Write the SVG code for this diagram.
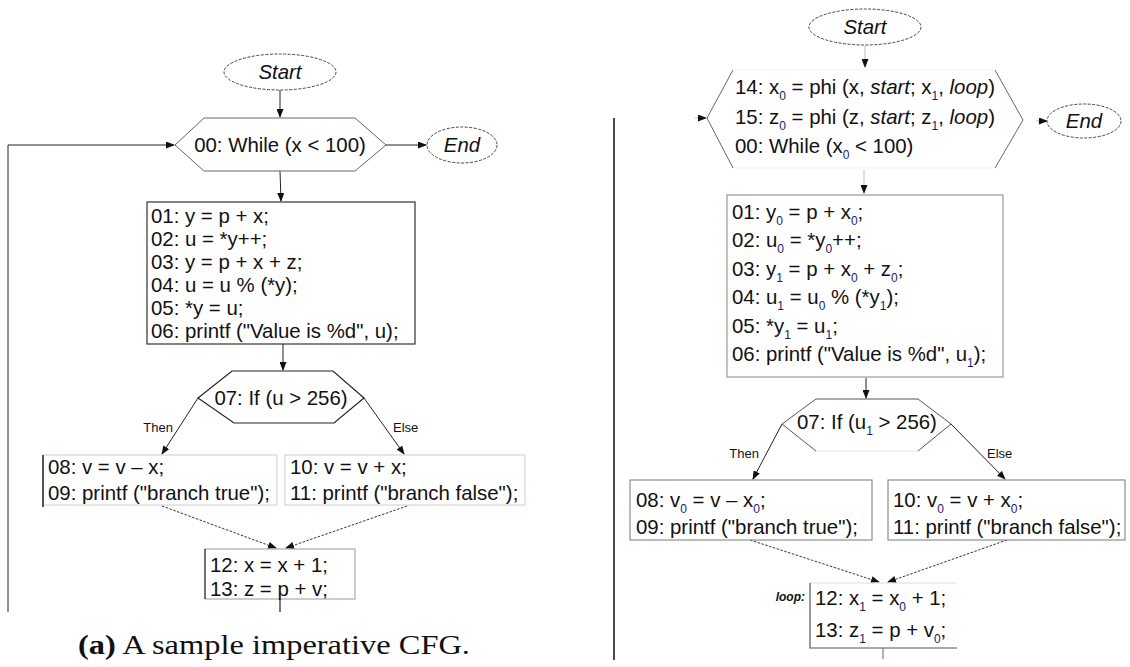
<svg xmlns="http://www.w3.org/2000/svg" width="1130" height="667" viewBox="0 0 1130 667">
<style>
text{font-family:"Liberation Sans",Arial,sans-serif;fill:#111;}
.t{font-size:20.4px;}
.it{font-style:italic;}
.sub{font-size:12px;fill:#1a1a66;}
.lbl{font-size:13px;}
.term{fill:#fff;stroke:#444;stroke-width:1;stroke-dasharray:3 1.5;}
.dark{fill:none;stroke:#222;stroke-width:1.2;}
.gray{fill:none;stroke:#666;stroke-width:1;}
.light{fill:none;stroke:#ccc;stroke-width:1;}
.edge{fill:none;stroke:#222;stroke-width:1;marker-end:url(#ah);}
.dot{fill:none;stroke:#333;stroke-width:1;stroke-dasharray:2.5 1.5;marker-end:url(#ah);}
.cap{font-family:"Liberation Serif","Times New Roman",serif;font-size:27px;}
</style>
<defs>
<marker id="ah" markerWidth="9" markerHeight="7" refX="8" refY="3.5" orient="auto" markerUnits="userSpaceOnUse">
<path d="M0,0 L9,3.5 L0,7 z" fill="#111"/>
</marker>
</defs>

<g id="connectors">
<line class="edge" x1="280" y1="90" x2="280" y2="117"/>
<line class="edge" x1="386" y1="145" x2="426" y2="145"/>
<path class="edge" d="M8,612 L8,145 L174,145"/>
<line class="edge" x1="280" y1="171" x2="281" y2="201"/>
<line class="edge" x1="283" y1="344" x2="283" y2="370"/>
<line class="edge" x1="198" y1="398" x2="162" y2="454"/>
<line class="edge" x1="364" y1="398" x2="404" y2="454"/>
<line class="dot" x1="162" y1="506" x2="276" y2="548"/>
<line class="dot" x1="407" y1="506" x2="286" y2="548"/>
<line class="dark" x1="280" y1="598" x2="280" y2="612"/>
<line x1="614" y1="118" x2="614" y2="660" stroke="#111" stroke-width="1.5"/>
<line x1="865" y1="46" x2="865" y2="67" stroke="#bbb" stroke-width="1" marker-end="url(#ah)"/>
<line x1="695" y1="118" x2="706" y2="118" stroke="#bbb" stroke-width="1" marker-end="url(#ah)"/>
<line x1="1036" y1="121" x2="1047" y2="121" stroke="#bbb" stroke-width="1" marker-end="url(#ah)"/>
<line x1="864" y1="170" x2="864" y2="193" stroke="#bbb" stroke-width="1" marker-end="url(#ah)"/>
<line class="edge" x1="866" y1="378" x2="866" y2="398"/>
<line class="edge" x1="782" y1="424" x2="753" y2="479"/>
<line class="edge" x1="951" y1="424" x2="1005" y2="479"/>
<line class="dot" x1="750" y1="540" x2="879" y2="582"/>
<line class="dot" x1="1007" y1="540" x2="888" y2="582"/>
<line x1="883" y1="648" x2="883" y2="659" stroke="#666" stroke-width="1"/>
</g>

<g id="l-start">
<ellipse class="term" cx="280" cy="72" rx="56" ry="18"/>
<text class="t it" x="280" y="79" text-anchor="middle">Start</text>
</g>
<g id="l-while">
<polygon class="gray" points="175,145 204,118 355,118 386,145 355,171 204,171" fill="#fff"/>
<text class="t" x="280" y="152" text-anchor="middle">00: While (x &lt; 100)</text>
</g>
<g id="l-end">
<ellipse class="term" cx="462" cy="145" rx="35" ry="18"/>
<text class="t it" x="462" y="152" text-anchor="middle">End</text>
</g>
<g id="l-block1">
<rect x="147" y="202" width="268" height="142" fill="#fff" stroke="#333" stroke-width="1.2"/>
<text class="t" x="151" y="223">01: y = p + x;</text>
<text class="t" x="151" y="246">02: u = *y++;</text>
<text class="t" x="151" y="269">03: y = p + x + z;</text>
<text class="t" x="151" y="292">04: u = u % (*y);</text>
<text class="t" x="151" y="315">05: *y = u;</text>
<text class="t" x="151" y="338">06: printf ("Value is %d", u);</text>
</g>
<g id="l-if">
<polygon class="dark" points="198,398 232,371 333,371 364,398 334,423 234,423" fill="#fff"/>
<text class="t" x="281" y="405" text-anchor="middle">07: If (u &gt; 256)</text>
<text class="lbl" x="173" y="432" text-anchor="end">Then</text>
<text class="lbl" x="393" y="432">Else</text>
</g>
<g id="l-then">
<rect class="light" x="43" y="455" width="234" height="50"/>
<line x1="43" y1="455" x2="43" y2="507" stroke="#222" stroke-width="1.5"/>
<text class="t" x="48" y="474">08: v = v – x;</text>
<text class="t" x="48" y="500">09: printf ("branch true");</text>
</g>
<g id="l-else">
<rect class="light" x="285" y="455" width="240" height="50"/>
<text class="t" x="290" y="474">10: v = v + x;</text>
<text class="t" x="290" y="500">11: printf ("branch false");</text>
</g>
<g id="l-block3">
<rect x="205" y="549" width="150" height="50" fill="#fff" stroke="#999" stroke-width="1"/>
<line x1="205" y1="549" x2="205" y2="599" stroke="#333" stroke-width="1.2"/>
<text class="t" x="210" y="572">12: x = x + 1;</text>
<text class="t" x="210" y="596">13: z = p + v;</text>
</g>
<g id="l-caption">
<text class="cap" x="78" y="654" textLength="392" lengthAdjust="spacingAndGlyphs"><tspan font-weight="bold">(a)</tspan> A sample imperative CFG.</text>
</g>

<g id="r-start">
<ellipse class="term" cx="865" cy="27" rx="56" ry="18"/>
<text class="t it" x="865" y="34" text-anchor="middle">Start</text>
</g>
<g id="r-phi">
<path d="M733,70 L707,118 L733,168 M995,70 L1023,120 L995,168" fill="none" stroke="#666" stroke-width="1"/>
<path d="M733,70 L995,70 M733,168 L995,168" fill="none" stroke="#f0f0f0" stroke-width="1"/>
<text class="t" x="735" y="94">14: x<tspan class="sub" dy="6">0</tspan><tspan dy="-6"> = phi (x, </tspan><tspan class="it">start</tspan>; x<tspan class="sub" dy="6">1</tspan><tspan dy="-6">, </tspan><tspan class="it">loop</tspan>)</text>
<text class="t" x="735" y="124">15: z<tspan class="sub" dy="6">0</tspan><tspan dy="-6"> = phi (z, </tspan><tspan class="it">start</tspan>; z<tspan class="sub" dy="6">1</tspan><tspan dy="-6">, </tspan><tspan class="it">loop</tspan>)</text>
<text class="t" x="735" y="153">00: While (x<tspan class="sub" dy="6">0</tspan><tspan dy="-6"> &lt; 100)</tspan></text>
</g>
<g id="r-end">
<ellipse class="term" cx="1084" cy="121" rx="37" ry="17"/>
<text class="t it" x="1084" y="128" text-anchor="middle">End</text>
</g>
<g id="r-block1">
<rect x="727" y="195" width="276" height="182" fill="#fff" stroke="#999" stroke-width="1.2"/>
<text class="t" x="732" y="219">01: y<tspan class="sub" dy="6">0</tspan><tspan dy="-6"> = p + x</tspan><tspan class="sub" dy="6">0</tspan><tspan dy="-6">;</tspan></text>
<text class="t" x="732" y="247">02: u<tspan class="sub" dy="6">0</tspan><tspan dy="-6"> = *y</tspan><tspan class="sub" dy="6">0</tspan><tspan dy="-6">++;</tspan></text>
<text class="t" x="732" y="276">03: y<tspan class="sub" dy="6">1</tspan><tspan dy="-6"> = p + x</tspan><tspan class="sub" dy="6">0</tspan><tspan dy="-6"> + z</tspan><tspan class="sub" dy="6">0</tspan><tspan dy="-6">;</tspan></text>
<text class="t" x="732" y="304">04: u<tspan class="sub" dy="6">1</tspan><tspan dy="-6"> = u</tspan><tspan class="sub" dy="6">0</tspan><tspan dy="-6"> % (*y</tspan><tspan class="sub" dy="6">1</tspan><tspan dy="-6">);</tspan></text>
<text class="t" x="732" y="333">05: *y<tspan class="sub" dy="6">1</tspan><tspan dy="-6"> = u</tspan><tspan class="sub" dy="6">1</tspan><tspan dy="-6">;</tspan></text>
<text class="t" x="732" y="361">06: printf ("Value is %d", u<tspan class="sub" dy="6">1</tspan><tspan dy="-6">);</tspan></text>
</g>
<g id="r-if">
<path d="M816,399 L918,399 L951,424 L918,451 M816,399 L782,424 L816,451" fill="none" stroke="#555" stroke-width="1"/>
<line x1="816" y1="451" x2="918" y2="451" stroke="#e6e6e6" stroke-width="1"/>
<text class="t" x="797" y="429">07: If (u<tspan class="sub" dy="6">1</tspan><tspan dy="-6"> &gt; 256)</tspan></text>
<text class="lbl" x="759" y="458" text-anchor="end">Then</text>
<text class="lbl" x="987" y="458">Else</text>
</g>
<g id="r-then">
<rect x="630" y="480" width="242" height="60" fill="#fff" stroke="#777" stroke-width="1"/>
<text class="t" x="636" y="507">08: v<tspan class="sub" dy="6">0</tspan><tspan dy="-6"> = v – x</tspan><tspan class="sub" dy="6">0</tspan><tspan dy="-6">;</tspan></text>
<text class="t" x="636" y="534">09: printf ("branch true");</text>
</g>
<g id="r-else">
<rect x="888" y="480" width="237" height="60" fill="#fff" stroke="#777" stroke-width="1"/>
<text class="t" x="893" y="507">10: v<tspan class="sub" dy="6">0</tspan><tspan dy="-6"> = v + x</tspan><tspan class="sub" dy="6">0</tspan><tspan dy="-6">;</tspan></text>
<text class="t" x="893" y="534">11: printf ("branch false");</text>
</g>
<g id="r-block3">
<line x1="810" y1="583" x2="957" y2="583" stroke="#ddd" stroke-width="1"/>
<path d="M810,583 L810,648 L957,648" fill="none" stroke="#555" stroke-width="1.2"/>
<text x="805" y="601" text-anchor="end" font-size="12" font-weight="bold" font-style="italic">loop:</text>
<text class="t" x="815" y="605">12: x<tspan class="sub" dy="6">1</tspan><tspan dy="-6"> = x</tspan><tspan class="sub" dy="6">0</tspan><tspan dy="-6"> + 1;</tspan></text>
<text class="t" x="815" y="637">13: z<tspan class="sub" dy="6">1</tspan><tspan dy="-6"> = p + v</tspan><tspan class="sub" dy="6">0</tspan><tspan dy="-6">;</tspan></text>
</g>
</svg>
